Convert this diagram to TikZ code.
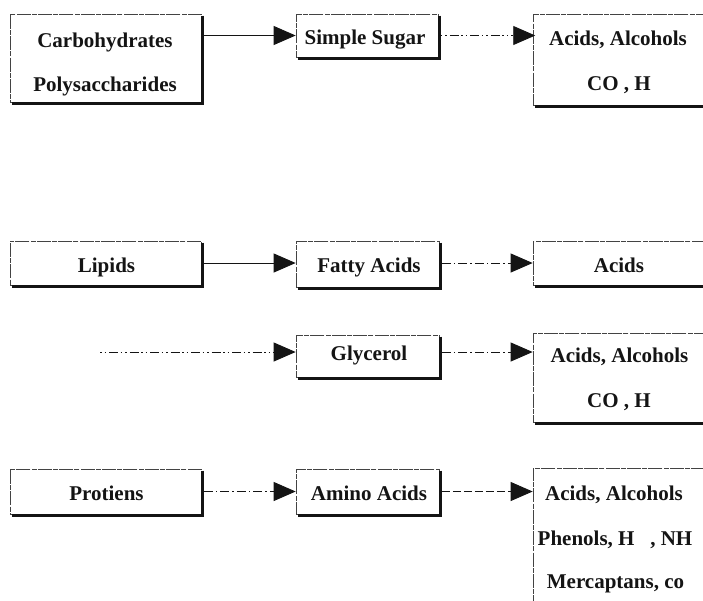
\documentclass[tikz,border=0pt]{standalone}
\usepackage{fontspec}
\setmainfont{Liberation Serif}
\usetikzlibrary{arrows.meta}
\definecolor{ink}{HTML}{141414}
\tikzset{
  box/.style={draw=ink!80, line width=0.7pt,
    dash pattern=on 14pt off 1.2pt on 5pt off 1.2pt,
    inner sep=0pt, fill=white},
  lbl/.style={anchor=base, inner sep=0pt, text=ink,
    font=\fontsize{21}{25}\selectfont\bfseries},
  shadowline/.style={ink, line width=2.6pt, line cap=butt},
  flow/.style={ink, line width=0.9pt, -{Triangle[length=22pt,width=19pt]}},
  flowdashdot/.style={flow, dash pattern=on 9pt off 3pt on 1.5pt off 3pt},
  flowdotdash/.style={flow, dash pattern=on 1.5pt off 3pt on 1.5pt off 3pt on 9pt off 2.5pt},
  flowdashed/.style={flow, dash pattern=on 8pt off 3pt},
}
\begin{document}
\begin{tikzpicture}[x=1pt,y=-1pt]
\useasboundingbox (0,0) rectangle (703,600);
\clip (0,0) rectangle (703,600);

% boxes
\node[box, minimum width=191pt, minimum height=88pt] (carb)     at (105.5,58)   {};
\node[box, minimum width=142pt, minimum height=43pt] (sugar)    at (367,35.5)   {};
\node[box, minimum width=182pt, minimum height=91pt] (acidsA)   at (624,59.5)   {};
\node[box, minimum width=191pt, minimum height=44pt] (lipids)   at (105.5,263)  {};
\node[box, minimum width=143pt, minimum height=46pt] (fatty)    at (367.5,264)  {};
\node[box, minimum width=182pt, minimum height=44pt] (acidsB)   at (624,263)    {};
\node[box, minimum width=143pt, minimum height=42pt] (glycerol) at (367.5,356)  {};
\node[box, minimum width=182pt, minimum height=89pt] (acidsC)   at (624,377.5)  {};
\node[box, minimum width=191pt, minimum height=45pt] (protiens) at (105.5,491.5){};
\node[box, minimum width=143pt, minimum height=45pt] (amino)    at (367.5,491.5){};
\node[box, minimum width=182pt, minimum height=172pt] (acidsD)  at (624,554)    {};

% heavy right and bottom edges
\foreach \n in {carb,sugar,acidsA,lipids,fatty,acidsB,glycerol,acidsC,protiens,amino,acidsD}{
  \draw[shadowline] ([xshift=1.3pt,yshift=-2pt]\n.north east)
    -- ([xshift=1.3pt,yshift=-1.3pt]\n.south east)
    -- ([xshift=2pt,yshift=-1.3pt]\n.south west);
}

% labels
\node[lbl] (carbA)  at (105,47)  {Carbohydrates};
\node[lbl] (carbB)  at (105,91)  {Polysaccharides};
\node[lbl] (sugarT) at (365,44)  {Simple Sugar};
\node[lbl] (acAa)   at (618,45)  {Acids, Alcohols};
\node[lbl] (acAb)   at (619,90)  {CO , H};
\node[lbl] (lipT)   at (106.5,272) {Lipids};
\node[lbl] (fatT)   at (369,272) {Fatty Acids};
\node[lbl] (acBa)   at (619,272) {Acids};
\node[lbl] (glyT)   at (369,360) {Glycerol};
\node[lbl] (acCa)   at (619.5,362) {Acids, Alcohols};
\node[lbl] (acCb)   at (619,407) {CO , H};
\node[lbl] (proT)   at (106.5,500) {Protiens};
\node[lbl] (amiT)   at (369,500) {Amino Acids};
\node[lbl] (acDa)   at (614,500) {Acids, Alcohols};
\node[lbl] (acDb)   at (615,545) {Phenols, H \ \ , NH};
\node[lbl] (acDc)   at (615.5,588) {Mercaptans, co};

% connectors
\coordinate (glyIn) at (100,352);
\draw[flow]        ([xshift=2.6pt]carb.east |- sugar.west) -- (sugar.west);
\draw[flowdotdash] ([xshift=2.6pt]sugar.east) -- ([xshift=2.6pt]sugar.east -| acidsA.west);
\draw[flow]        ([xshift=2.6pt]lipids.east) -- (lipids.east -| fatty.west);
\draw[flowdashdot] ([xshift=2.6pt]fatty.east |- lipids.east) -- (lipids.east -| acidsB.west);
\draw[flowdotdash] (glyIn) -- (glyIn -| glycerol.west);
\draw[flowdashdot] ([xshift=2.6pt]glycerol.east |- glyIn) -- (glyIn -| acidsC.west);
\draw[flowdashdot] ([xshift=2.6pt]protiens.east) -- (protiens.east -| amino.west);
\draw[flowdashed]  ([xshift=2.6pt]amino.east) -- (amino.east -| acidsD.west);
\end{tikzpicture}
\end{document}
